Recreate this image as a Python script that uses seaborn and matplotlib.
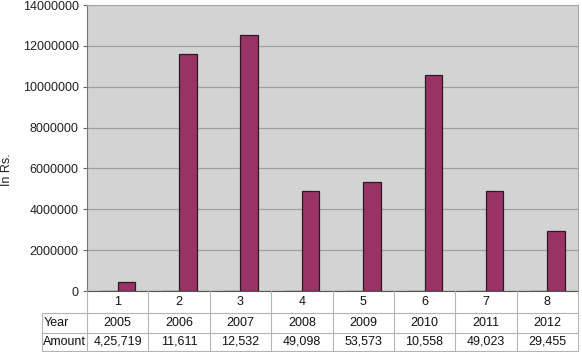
import pandas as pd
import matplotlib
matplotlib.use('Agg')
import matplotlib.pyplot as plt
from matplotlib.lines import Line2D
import seaborn as sns

# --- datos ---
categorias = ['1', '2', '3', '4', '5', '6', '7', '8']
anios = [2005, 2006, 2007, 2008, 2009, 2010, 2011, 2012]
montos = [425719, 11611000, 12532000, 4909800, 5357300, 10558000, 4902300, 2945500]
etiquetas_monto = ['4,25,719', '11,611', '12,532', '49,098', '53,573', '10,558', '49,023', '29,455']
filas_tabla = ['Year', 'Amount']

df = pd.DataFrame({
    'cat': categorias * 2,
    'valor': anios + montos,
    'serie': ['Year'] * 8 + ['Amount'] * 8,
})

sns.set_style('white')
plt.rcParams['font.family'] = ['Liberation Sans', 'DejaVu Sans']

W, H = 582, 352
fig = plt.figure(figsize=(W / 100, H / 100), dpi=100)

# zona del grafico en pixeles
x0, x1, y0, y1 = 87, 578, 5, 291
ax = fig.add_axes([x0 / W, 1 - y1 / H, (x1 - x0) / W, (y1 - y0) / H])
ax.set_facecolor('#d3d3d3')

sns.barplot(data=df, x='cat', y='valor', hue='serie', order=categorias,
            palette={'Year': '#9999ff', 'Amount': '#993366'}, saturation=1,
            width=2 / 3.5, edgecolor='#2a1a22', linewidth=0.9,
            legend=False, ax=ax, zorder=3)

ax.set_xlim(-0.5, 7.5)
ax.set_ylim(0, 14000000)
ax.set_yticks(range(0, 14000001, 2000000))
ax.set_yticklabels([str(v) for v in range(0, 14000001, 2000000)], fontsize=9, color='#222222')
ax.yaxis.grid(True, color='#a0a0a0', linewidth=0.9, zorder=0)
ax.set_axisbelow(True)
ax.set_xticks([])
ax.set_xlabel('')
ax.set_ylabel('')
ax.tick_params(axis='y', length=3, width=0.8, color='#666666', left=True, pad=3)

for lado in ['top', 'right']:
    ax.spines[lado].set_color('#a8a8a8')
ax.spines['left'].set_color('#777777')
ax.spines['bottom'].set_color('#555555')


# --- tabla de datos dibujada a mano (coordenadas en pixeles) ---
def linea(xa, ya, xb, yb):
    fig.add_artist(Line2D([xa / W, xb / W], [1 - ya / H, 1 - yb / H],
                          color='#b4b4b4', linewidth=0.8, transform=fig.transFigure))


def texto(x, y, s, ha='center'):
    fig.text(x / W, 1 - y / H, s, ha=ha, va='center', fontsize=9, color='#111111')


xl = 42
filas_y = [291, 313, 333, 351]
ancho = (x1 - x0) / len(categorias)
bordes_x = [x0 + ancho * k for k in range(len(categorias) + 1)]

for yy in filas_y[1:]:
    linea(xl, yy, x1, yy)
linea(xl, filas_y[1], xl, filas_y[-1])
for bx in bordes_x:
    linea(bx, filas_y[0], bx, filas_y[-1])

for k, cat in enumerate(categorias):
    cx = bordes_x[k] + ancho / 2
    texto(cx, (filas_y[0] + filas_y[1]) / 2, cat)
    texto(cx, (filas_y[1] + filas_y[2]) / 2, str(anios[k]))
    texto(cx, (filas_y[2] + filas_y[3]) / 2, etiquetas_monto[k])

texto(xl + 2, (filas_y[1] + filas_y[2]) / 2, filas_tabla[0], ha='left')
texto(xl + 1, (filas_y[2] + filas_y[3]) / 2, filas_tabla[1], ha='left')

# etiqueta del eje y pegada al borde izquierdo
fig.text(1 / W, 0.517, 'In Rs.', rotation=90, ha='left', va='center', fontsize=9, color='#222222')

fig.savefig('out.png', dpi=100, facecolor='white')
